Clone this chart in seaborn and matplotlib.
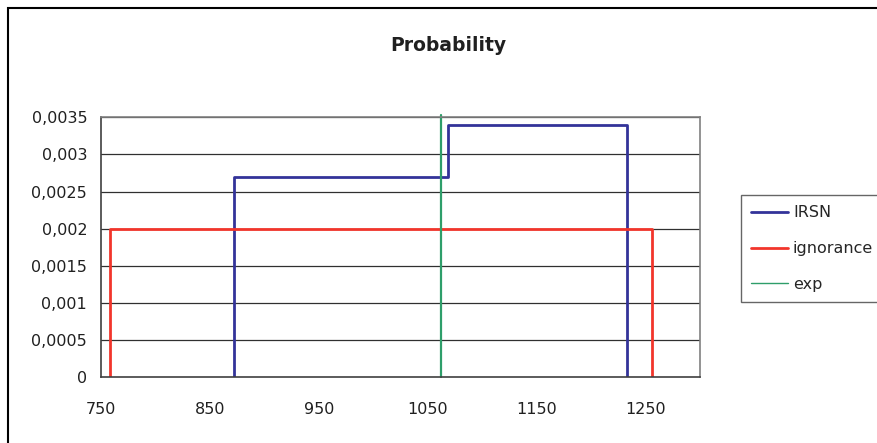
import matplotlib
matplotlib.use("Agg")
import matplotlib.pyplot as plt
import seaborn as sns
import pandas as pd
from matplotlib.patches import Rectangle

# data
irsn_x = [872, 872, 1069, 1069, 1233, 1233]
irsn_y = [0, 0.0027, 0.0027, 0.0034, 0.0034, 0]
ign_x = [758, 758, 1256, 1256]
ign_y = [0, 0.002, 0.002, 0]
exp_x = [1062, 1062]
exp_y = [0, 0.00353]

x_ticks = [750, 850, 950, 1050, 1150, 1250]
y_ticks = [0, 0.0005, 0.001, 0.0015, 0.002, 0.0025, 0.003, 0.0035]
y_labels = ["0", "0,0005", "0,001", "0,0015", "0,002", "0,0025", "0,003", "0,0035"]

sns.set_style("white")
plt.rcParams["font.family"] = ["DejaVu Sans"]

fig = plt.figure(figsize=(8.77, 4.43), dpi=100)
ax = fig.add_axes([0.1152, 0.149, 0.683, 0.586])

# outer chart border (only top/left visible in the original)
fig.patches.append(Rectangle((8 / 877, -0.1), 1.2, (443 - 8) / 443 + 0.1,
                             transform=fig.transFigure, fill=False,
                             edgecolor="black", linewidth=1.5))

for yv in y_ticks[1:]:
    ax.axhline(yv, color="#303030", linewidth=0.9, zorder=0)

irsn = pd.DataFrame({"x": irsn_x, "y": irsn_y})
ign = pd.DataFrame({"x": ign_x, "y": ign_y})
expd = pd.DataFrame({"x": exp_x, "y": exp_y})

sns.lineplot(data=irsn, x="x", y="y", sort=False, estimator=None, ax=ax,
             color="#333399", linewidth=2.0, label="IRSN")
sns.lineplot(data=ign, x="x", y="y", sort=False, estimator=None, ax=ax,
             color="#F2352B", linewidth=2.0, label="ignorance")
sns.lineplot(data=expd, x="x", y="y", sort=False, estimator=None, ax=ax,
             color="#2E9E6A", linewidth=1.6, label="exp")
ax.lines[-1].set_clip_on(False)

ax.set_xlim(750, 1300)
ax.set_ylim(0, 0.0035)
ax.set_xticks(x_ticks)
ax.set_yticks(y_ticks)
ax.set_yticklabels(y_labels)
ax.set_xlabel("")
ax.set_ylabel("")
ax.tick_params(axis="both", direction="out", length=4, width=1,
               color="#404040", labelsize=11.5, labelcolor="#202020")
ax.tick_params(axis="x", pad=14)
ax.tick_params(axis="y", pad=6)
for s in ax.spines.values():
    s.set_color("#808080")
    s.set_linewidth(1.2)
ax.spines["left"].set_color("#404040")
ax.spines["bottom"].set_color("#404040")

fig.text(0.511, 0.898, "Probability", ha="center", va="center",
         fontsize=13.5, fontweight="bold", color="#202020")

leg = ax.legend(loc="upper left", bbox_to_anchor=(741 / 877, 1 - 195 / 443),
                bbox_transform=fig.transFigure, frameon=True, fancybox=False,
                fontsize=11.5, handlelength=2.3, handletextpad=0.3,
                labelspacing=1.3, borderpad=0.65, borderaxespad=0)
leg.get_frame().set_edgecolor("#404040")
leg.get_frame().set_linewidth(1.0)
leg.get_lines()[2].set_linewidth(1.0)

fig.savefig("out.png", dpi=100)
